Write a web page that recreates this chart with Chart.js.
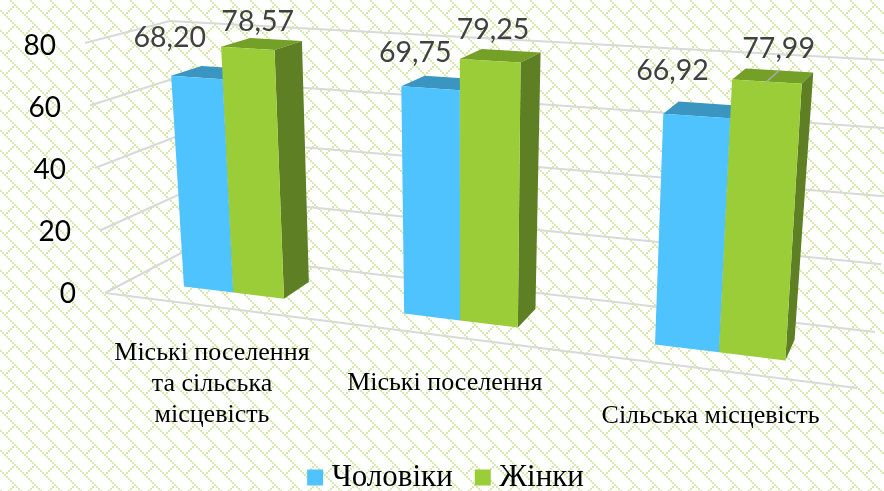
<!DOCTYPE html>
<html>
<head>
<meta charset="utf-8">
<title>Chart</title>
<script src="https://cdn.jsdelivr.net/npm/chart.js@4"></script>
<style>
	html, body { margin: 0; padding: 0; background: #fff; }
	canvas { display: block; }
</style>
</head>
<body>
<canvas id="chart" width="884" height="491"></canvas>
<script>
// data
const categories = [['Міські поселення', 'та сільська', 'місцевість'], 'Міські поселення', 'Сільська місцевість'];
const men = [68.20, 69.75, 66.92];
const women = [78.57, 79.25, 77.99];

// look of the 3D box: screen corners of the plot box, [left/right][bottom/top][front/back]
const BOX = [
	[[[105, 293], [183, 252]], [[85, 43], [170, 21]]],
	[[[857, 388], [875, 332]], [[876, 91], [900, 61]]]
];
const PERSPECTIVE_U = 0.82;
const PERSPECTIVE_Z = 1.1;
const BAR_FRONT = 0.3;
const BAR_BACK = 0.68;
const SHADES = [
	{ front: '#4fc3fd', top: '#3a95c0', side: '#3a95c0' },
	{ front: '#9acd38', top: '#74a027', side: '#5f7f25' }
];
const VALUE_NUDGE = [
	[[-27, -40], [-15, -35], [-24, -45]],
	[[10, -27], [3, -31], [12, -33]]
];

function project(u, v, z) {
	let sx = 0, sy = 0, sw = 0;
	for (let i = 0; i < 2; i++) {
		for (let j = 0; j < 2; j++) {
			for (let k = 0; k < 2; k++) {
				const w = (i ? u : 1 - u) * (j ? v : 1 - v) * (k ? z : 1 - z) *
					(i ? PERSPECTIVE_U : 1) * (k ? PERSPECTIVE_Z : 1);
				sx += w * BOX[i][j][k][0];
				sy += w * BOX[i][j][k][1];
				sw += w;
			}
		}
	}
	return [sx / sw, sy / sw];
}

function polygon(ctx, color, points) {
	ctx.fillStyle = color;
	ctx.beginPath();
	points.forEach(function (p, i) {
		if (i === 0) ctx.moveTo(p[0], p[1]); else ctx.lineTo(p[0], p[1]);
	});
	ctx.closePath();
	ctx.fill();
}

function line(ctx, a, b) {
	ctx.beginPath();
	ctx.moveTo(a[0], a[1]);
	ctx.lineTo(b[0], b[1]);
	ctx.stroke();
}

// diagonal brick wallpaper: 10 x 10 cells of 2px
function brickPattern(ctx) {
	const tile = document.createElement('canvas');
	tile.width = 20;
	tile.height = 20;
	const t = tile.getContext('2d');
	t.fillStyle = '#ffffff';
	t.fillRect(0, 0, 20, 20);
	t.fillStyle = '#d6e9ae';
	for (let i = 0; i < 10; i++) {
		t.fillRect(i * 2, ((i + 5) % 10) * 2, 2, 2);
	}
	for (let i = 2; i <= 7; i++) {
		t.fillRect(i * 2, (9 - i) * 2, 2, 2);
	}
	return ctx.createPattern(tile, 'repeat');
}

function barBox(chart, bar) {
	const area = chart.chartArea;
	const y = chart.scales.y;
	return {
		u0: (bar.x - bar.width / 2 - area.left) / area.width,
		u1: (bar.x + bar.width / 2 - area.left) / area.width,
		v: (y.bottom - bar.y) / (y.bottom - y.top)
	};
}

const box3d = {
	id: 'box3d',
	beforeDraw: function (chart) {
		const ctx = chart.ctx;
		ctx.save();
		ctx.fillStyle = brickPattern(ctx);
		ctx.fillRect(0, 0, chart.width, chart.height);
		ctx.restore();
	},
	beforeDatasetsDraw: function (chart) {
		const ctx = chart.ctx;
		const y = chart.scales.y;
		const x = chart.scales.x;
		ctx.save();
		ctx.strokeStyle = '#d9d9d9';
		ctx.lineWidth = 2;
		y.ticks.forEach(function (tick) {
			const v = (y.bottom - y.getPixelForValue(tick.value)) / (y.bottom - y.top);
			line(ctx, project(0, v, 0), project(0, v, 1));
			line(ctx, project(0, v, 1), project(1, v, 1));
		});
		line(ctx, project(0, 0, 0), project(1, 0, 0));

		// value axis labels
		ctx.fillStyle = '#000';
		ctx.font = '28px Lato';
		ctx.textAlign = 'right';
		ctx.textBaseline = 'middle';
		y.ticks.forEach(function (tick) {
			const v = (y.bottom - y.getPixelForValue(tick.value)) / (y.bottom - y.top);
			const p = project(0, v, 0);
			ctx.fillText(tick.label, p[0] - 29, p[1] + 1 + 2 * v);
		});

		// category labels
		ctx.font = '26px "Liberation Serif"';
		ctx.textAlign = 'center';
		const area = chart.chartArea;
		x.getLabels().forEach(function (label, i) {
			const u = (x.getPixelForValue(i) - area.left) / area.width;
			const p = project(u, 0, 0);
			[].concat(label).forEach(function (text, n) {
				ctx.fillText(text, p[0] + 1, p[1] + 47 + n * 31);
			});
		});
		ctx.restore();
	},
	beforeDatasetDraw: function () {
		return false;
	},
	afterDatasetsDraw: function (chart) {
		const ctx = chart.ctx;
		ctx.save();
		chart.data.datasets.forEach(function (ds, d) {
			const shade = SHADES[d];
			chart.getDatasetMeta(d).data.forEach(function (bar) {
				const b = barBox(chart, bar);
				const f = BAR_FRONT, k = BAR_BACK;
				polygon(ctx, shade.top, [project(b.u0, b.v, f), project(b.u1, b.v, f), project(b.u1, b.v, k), project(b.u0, b.v, k)]);
				polygon(ctx, shade.side, [project(b.u1, 0, f), project(b.u1, b.v, f), project(b.u1, b.v, k), project(b.u1, 0, k)]);
				polygon(ctx, shade.front, [project(b.u0, 0, f), project(b.u1, 0, f), project(b.u1, b.v, f), project(b.u0, b.v, f)]);
			});
		});

		// value labels
		ctx.font = '28.5px Lato';
		ctx.textAlign = 'center';
		ctx.textBaseline = 'middle';
		chart.data.datasets.forEach(function (ds, d) {
			chart.getDatasetMeta(d).data.forEach(function (bar, i) {
				const b = barBox(chart, bar);
				const p = project((b.u0 + b.u1) / 2, b.v, BAR_FRONT);
				const n = VALUE_NUDGE[d][i];
				// the one label that drifted away from its bar keeps a leader line
				if (d === 1 && i === 2) {
					ctx.strokeStyle = '#a6a6a6';
					ctx.lineWidth = 1.5;
					line(ctx, p, project((b.u0 + b.u1) / 2, b.v, BAR_BACK));
				}
				ctx.fillStyle = '#404040';
				ctx.fillText(ds.data[i].toFixed(2).replace('.', ','), p[0] + n[0], p[1] + n[1]);
			});
		});
		ctx.restore();
	}
};

new Chart(document.getElementById('chart'), {
	type: 'bar',
	data: {
		labels: categories,
		datasets: [
			{ label: 'Чоловіки', data: men, backgroundColor: '#4fc3fd', borderColor: '#4fc3fd', borderWidth: 14 },
			{ label: 'Жінки', data: women, backgroundColor: '#9acd38', borderColor: '#9acd38', borderWidth: 14 }
		]
	},
	options: {
		responsive: false,
		animation: false,
		categoryPercentage: 0.47,
		barPercentage: 1,
		layout: { padding: { left: 14, bottom: -12 } },
		plugins: {
			tooltip: { enabled: false },
			legend: {
				position: 'bottom',
				labels: {
					boxWidth: 2,
					boxHeight: 2,
					padding: 29,
					color: '#000',
					font: { family: '"Liberation Serif"', size: 31 }
				}
			}
		},
		scales: {
			x: { display: false },
			y: { display: false, min: 0, max: 80, ticks: { stepSize: 20 } }
		}
	},
	plugins: [box3d]
});
</script>
</body>
</html>
